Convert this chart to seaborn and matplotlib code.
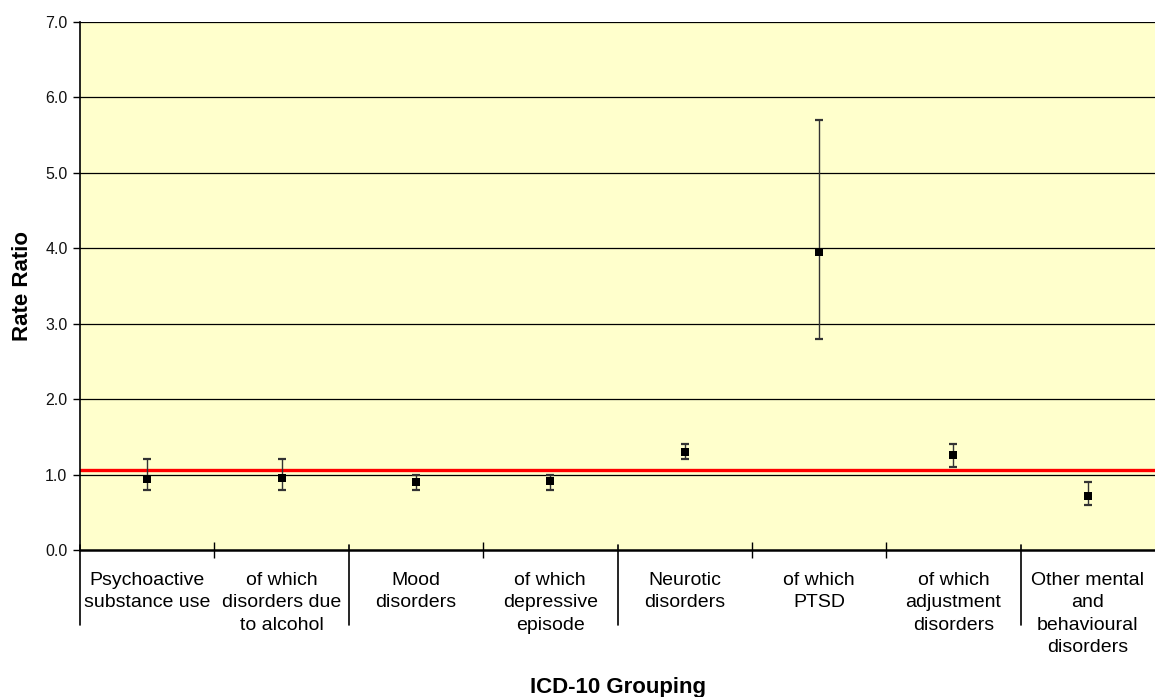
import matplotlib
matplotlib.use("Agg")
import matplotlib.pyplot as plt
import matplotlib.transforms as mtransforms
import seaborn as sns
import pandas as pd
import numpy as np

categories = ["Psychoactive\nsubstance use", "of which\ndisorders due\nto alcohol",
              "Mood\ndisorders", "of which\ndepressive\nepisode",
              "Neurotic\ndisorders", "of which\nPTSD",
              "of which\nadjustment\ndisorders", "Other mental\nand\nbehavioural\ndisorders"]
rate_ratio = [0.94, 0.95, 0.90, 0.91, 1.30, 3.95, 1.26, 0.72]
ci_low = [0.80, 0.80, 0.80, 0.80, 1.20, 2.80, 1.10, 0.60]
ci_high = [1.20, 1.20, 1.00, 1.00, 1.40, 5.70, 1.40, 0.90]
reference_value = 1.06
group_bounds = [-0.5, 1.5, 3.5, 6.5]
minor_bounds = [0.5, 2.5, 4.5, 5.5]
yticks = [0.0, 1.0, 2.0, 3.0, 4.0, 5.0, 6.0, 7.0]

df = pd.DataFrame({"cat": categories, "x": np.arange(len(categories)),
                   "rr": rate_ratio, "lo": ci_low, "hi": ci_high})

sns.set_style("white")
plt.rcParams["font.family"] = ["Liberation Sans", "DejaVu Sans"]
plt.rcParams["text.color"] = "black"
plt.rcParams["axes.labelcolor"] = "black"
plt.rcParams["xtick.color"] = "black"
plt.rcParams["ytick.color"] = "black"

fig = plt.figure(figsize=(11.55, 6.97), dpi=100)
ax = fig.add_axes([80/1155, 1-550/697, 1-80/1155, (550-22)/697])
ax.set_facecolor("#FFFFCC")

for y in yticks[1:]:
    ax.axhline(y, color="black", lw=0.9, zorder=1)
ax.axhline(reference_value, color="#FF0000", lw=2.4, zorder=2)

ax.errorbar(df["x"], df["rr"],
            yerr=[df["rr"] - df["lo"], df["hi"] - df["rr"]],
            fmt="none", ecolor="#333333", elinewidth=1.0, capsize=2.8, capthick=1.6, zorder=3)
sns.scatterplot(data=df, x="x", y="rr", marker="s", s=38, color="black",
                edgecolor="black", linewidth=0, ax=ax, zorder=4, legend=False)

ax.set_xlim(-0.5, len(categories) - 0.5)
ax.set_ylim(0, 7)
ax.set_yticks(yticks)
ax.set_yticklabels([f"{v:.1f}" for v in yticks], fontsize=11.5, color="#111111")
ax.tick_params(axis="y", direction="out", length=5, width=1, color="black", pad=4, left=True)

ax.set_xticks(df["x"])
ax.set_xticklabels(categories, fontsize=14, linespacing=1.4, va="top")
ax.tick_params(axis="x", which="major", length=0, pad=16)
ax.set_xticks(minor_bounds, minor=True)
ax.tick_params(axis="x", which="minor", direction="inout", length=11, width=1, color="black", bottom=True)

trans = mtransforms.blended_transform_factory(ax.transData, ax.transAxes)
for b in group_bounds:
    ax.plot([b, b], [0.01, -0.142], transform=trans, color="black", lw=1.2, clip_on=False)

for s in ["top", "right"]:
    ax.spines[s].set_visible(False)
ax.spines["left"].set_color("black")
ax.spines["left"].set_linewidth(1.2)
ax.spines["bottom"].set_color("black")
ax.spines["bottom"].set_linewidth(1.8)

ax.set_xlabel("ICD-10 Grouping", fontsize=16, fontweight="bold", labelpad=0)
ax.xaxis.set_label_coords(0.5, (550-687)/528, transform=ax.transAxes)
ax.set_ylabel("Rate Ratio", fontsize=16, fontweight="bold")
ax.yaxis.set_label_coords(23/1075 - 80/1075, 0.5)
ax.xaxis.label.set_va("center")
ax.yaxis.label.set_va("center")

fig.savefig("out.png", dpi=100, facecolor="white")
